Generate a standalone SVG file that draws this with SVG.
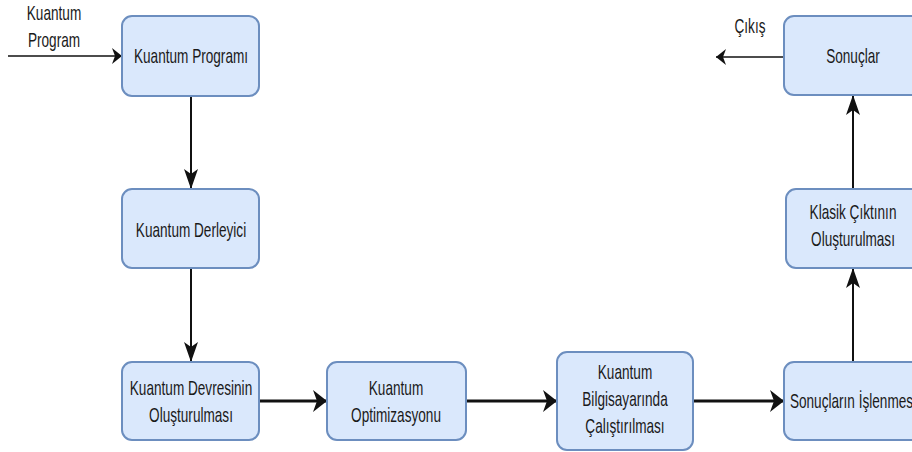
<svg xmlns="http://www.w3.org/2000/svg" width="912" height="452" viewBox="0 0 912 452">
<style>
.node rect{fill:#dae8fc;stroke:#6c8ebf;stroke-width:2}
text{font-family:"Liberation Sans",Arial,sans-serif;font-size:13.6px;fill:#1a1a1a;text-anchor:middle}
.c{fill:none;stroke:#111}
.thin{stroke-width:1.5}
.v{stroke-width:2}
.h{stroke-width:3}
</style>
<defs>
<marker id="mV" markerUnits="userSpaceOnUse" markerWidth="24" markerHeight="24" viewBox="-2 -12 24 24" refX="20" refY="0" orient="auto"><path d="M0,-7 L20,0 L0,7 L5,0 Z" fill="#111"/></marker>
<marker id="mH" markerUnits="userSpaceOnUse" markerWidth="24" markerHeight="28" viewBox="-2 -14 20 28" refX="14" refY="0" orient="auto"><path d="M0,-11 L14,0 L0,11 L4,0 Z" fill="#111"/></marker>
<marker id="mS" markerUnits="userSpaceOnUse" markerWidth="16" markerHeight="20" viewBox="-2 -10 16 20" refX="10" refY="0" orient="auto"><path d="M0,-8 L10,0 L0,8 L3,0 Z" fill="#111"/></marker>
</defs>
<g id="connectors">
<path class="c thin" d="M8,56 L122,56" marker-end="url(#mS)"/>
<path class="c v" d="M191,96 L191,189" marker-end="url(#mV)"/>
<path class="c v" d="M191,268 L191,362" marker-end="url(#mV)"/>
<path class="c h" d="M259,401 L327,401" marker-end="url(#mH)"/>
<path class="c h" d="M466,401 L557,401" marker-end="url(#mH)"/>
<path class="c h" d="M693,401 L784,401" marker-end="url(#mH)"/>
<path class="c v" d="M853,362 L853,268" marker-end="url(#mV)"/>
<path class="c v" d="M853,189 L853,95" marker-end="url(#mV)"/>
<path class="c thin" d="M784,57 L716,57" marker-end="url(#mS)"/>
</g>
<g id="label-in"><text transform="translate(54,20) scale(1,1.5)">Kuantum<tspan x="0" dy="18">Program</tspan></text></g>
<g id="label-out"><text transform="translate(750,33) scale(1,1.5)">Çıkış</text></g>
<g id="n1" class="node"><rect x="122" y="16" width="137" height="80" rx="10"/><text transform="translate(191,63) scale(1,1.5)">Kuantum Programı</text></g>
<g id="n2" class="node"><rect x="122" y="189" width="137" height="79" rx="10"/><text transform="translate(191,237) scale(1,1.5)">Kuantum Derleyici</text></g>
<g id="n3" class="node"><rect x="122" y="362" width="137" height="78" rx="10"/><text transform="translate(191,395) scale(1,1.5)">Kuantum Devresinin<tspan x="0" dy="18">Oluşturulması</tspan></text></g>
<g id="n4" class="node"><rect x="327" y="362" width="139" height="78" rx="10"/><text transform="translate(396,395) scale(1,1.5)">Kuantum<tspan x="0" dy="18">Optimizasyonu</tspan></text></g>
<g id="n5" class="node"><rect x="557" y="352" width="136" height="98" rx="10"/><text transform="translate(625,379) scale(1,1.5)">Kuantum<tspan x="0" dy="18">Bilgisayarında</tspan><tspan x="0" dy="18">Çalıştırılması</tspan></text></g>
<g id="n6" class="node"><rect x="784" y="362" width="140" height="78" rx="10"/><text transform="translate(853,408) scale(1,1.5)">Sonuçların İşlenmesi</text></g>
<g id="n7" class="node"><rect x="786" y="189" width="136" height="79" rx="10"/><text transform="translate(853,219) scale(1,1.5)">Klasik Çıktının<tspan x="0" dy="18">Oluşturulması</tspan></text></g>
<g id="n8" class="node"><rect x="784" y="16" width="138" height="79" rx="10"/><text transform="translate(853,63) scale(1,1.5)">Sonuçlar</text></g>
</svg>
